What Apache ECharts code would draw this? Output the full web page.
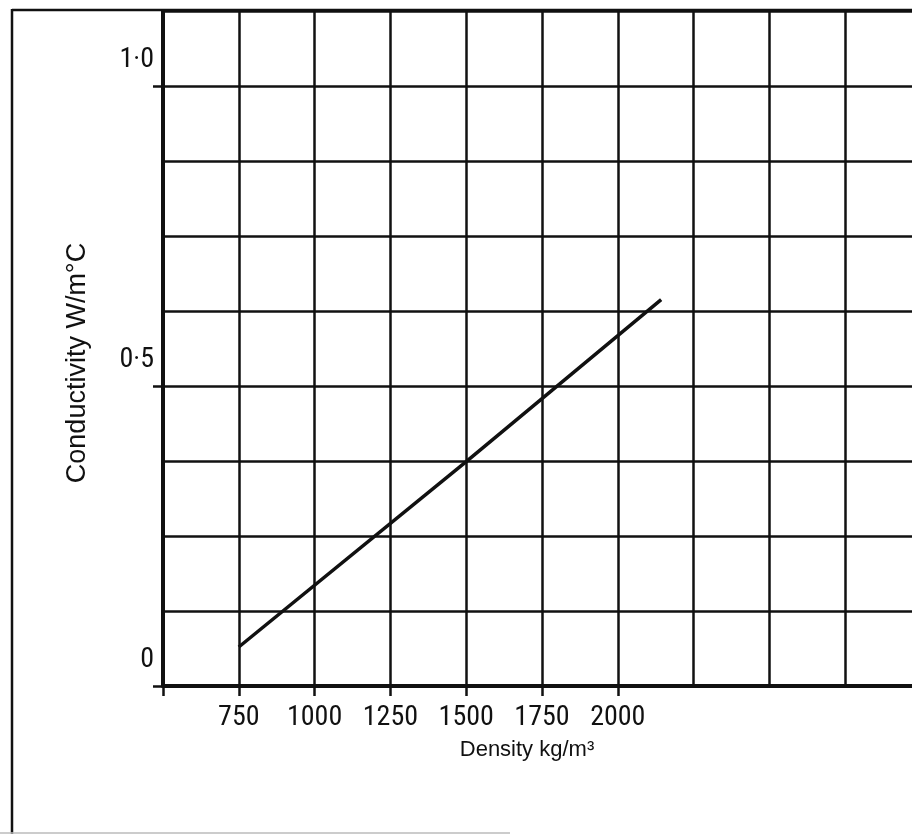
<!DOCTYPE html>
<html>
<head>
<meta charset="utf-8">
<script src="https://cdn.jsdelivr.net/npm/echarts@6/dist/echarts.min.js"></script>
<style>
  html, body { margin: 0; padding: 0; background: #fff; }
  #chart { width: 912px; height: 836px; }
</style>
</head>
<body>
<div id="chart"></div>
<script>
// ---- data ----
const densityValues = [750, 1500, 2143];          // kg/m3
const conductivityValues = [0.065, 0.374, 0.644];  // W/m°C
const xTickLabels = [750, 1000, 1250, 1500, 1750, 2000];
const xTickMarks = [500, 750, 1000, 1250, 1500, 1750, 2000];
const yTickLabels = [0, 0.5, 1.0];
const xTitle = 'Density kg/m³';
const yTitle = 'Conductivity W/m°C';

const ink = '#111';
const numFont = '"Liberation Sans Narrow", "Roboto Condensed", "Liberation Sans", Arial, sans-serif';
const textFont = '"Liberation Sans", Arial, sans-serif';

const lineData = densityValues.map((d, i) => [d, conductivityValues[i]]);
const near = (list, v) => list.some(t => Math.abs(t - v) < 1e-9);

const chart = echarts.init(document.getElementById('chart'), null, { renderer: 'canvas' });
chart.setOption({
  backgroundColor: '#fff',
  animation: false,
  grid: { left: 163, top: 11, width: 758, height: 675, containLabel: false, outerBoundsMode: 'none' },
  xAxis: [{
    type: 'value', position: 'bottom',
    min: 500, max: 3000, interval: 250,
    axisLine: { show: true, lineStyle: { color: ink, width: 4 } },
    axisTick: { show: false },
    axisLabel: {
      formatter: v => (near(xTickLabels, v) ? String(v) : ''),
      color: ink, fontFamily: numFont, fontSize: 28, margin: 18
    },
    splitLine: { show: true, lineStyle: { color: ink, width: 2.5 } }
  }, {
    type: 'value', position: 'bottom',
    min: 500, max: 3000, interval: 250,
    axisLine: { show: false },
    axisTick: { show: true, customValues: xTickMarks, length: 10, lineStyle: { color: ink, width: 2.5 } },
    axisLabel: { show: false },
    splitLine: { show: false }
  }],
  yAxis: [{
    type: 'value', position: 'left',
    min: 0, max: 1.125, interval: 0.125,
    axisLine: { show: true, lineStyle: { color: ink, width: 4 } },
    axisTick: { show: false },
    axisLabel: {
      formatter: v => {
        if (Math.abs(v) < 1e-9) return '0';
        if (near(yTickLabels, v)) return v.toFixed(1).replace('.', '·');
        return '';
      },
      color: ink, fontFamily: numFont, fontSize: 28, margin: 9,
      verticalAlign: 'bottom', padding: [0, 0, 12, 0]
    },
    splitLine: { show: true, lineStyle: { color: ink, width: 2.5 } }
  }, {
    type: 'value', position: 'left',
    min: 0, max: 1.125, interval: 0.125,
    axisLine: { show: false },
    axisTick: { show: true, customValues: yTickLabels, length: 10, lineStyle: { color: ink, width: 2.5 } },
    axisLabel: { show: false },
    splitLine: { show: false }
  }],
  graphic: [
    { type: 'line', shape: { x1: 12, y1: 9, x2: 12, y2: 834 }, style: { stroke: ink, lineWidth: 2.5 }, z: 1 },
    { type: 'line', shape: { x1: 12, y1: 10, x2: 912, y2: 10 }, style: { stroke: ink, lineWidth: 2.5 }, z: 1 },
    { type: 'line', shape: { x1: 0, y1: 833, x2: 510, y2: 833 }, style: { stroke: '#bbb', lineWidth: 1.5 }, z: 1 },
    {
      type: 'text', x: 527, y: 750,
      style: { text: xTitle, fill: ink, font: '22px ' + textFont, textAlign: 'center', textVerticalAlign: 'middle' }
    },
    {
      type: 'text', x: 78, y: 363, rotation: Math.PI / 2,
      style: { text: yTitle, fill: ink, font: '27px ' + textFont, textAlign: 'center', textVerticalAlign: 'middle' }
    }
  ],
  series: [{
    type: 'line',
    xAxisIndex: 0, yAxisIndex: 0,
    data: lineData,
    symbol: 'none',
    lineStyle: { color: ink, width: 3.5 },
    z: 5
  }]
});
</script>
</body>
</html>
